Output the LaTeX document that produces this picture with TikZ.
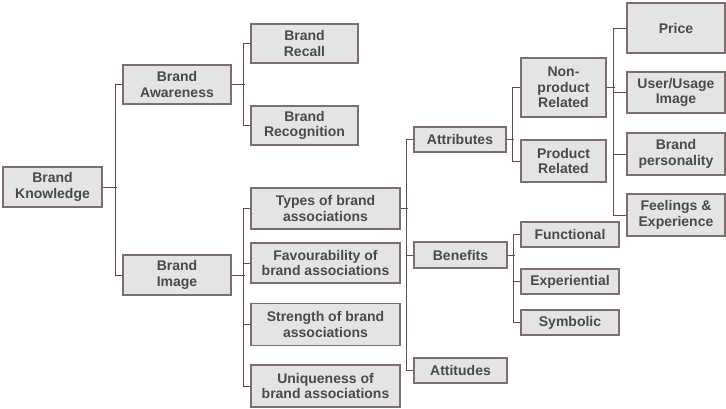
\documentclass[tikz,border=0pt]{standalone}
\usepackage{fontspec}
\setmainfont{Liberation Sans}
\definecolor{boxfill}{HTML}{E4E4E4}
\definecolor{boxline}{HTML}{7E6F6E}
\definecolor{conn}{HTML}{5E4C48}
\definecolor{txt}{HTML}{4A4A4A}
\begin{document}
\begin{tikzpicture}[x=1pt,y=-1pt,
  box/.style={draw=boxline, fill=boxfill, line width=1.3pt, inner sep=0pt, align=center,
    font=\fontsize{14}{15.5}\selectfont\bfseries, text=txt},
  link/.style={draw=conn, line width=0.9pt}]
\useasboundingbox (0,0) rectangle (726,409);
\fill[white] (0,0) rectangle (726,409);
% level 0
\node[box, minimum width=99pt, minimum height=40pt] (know) at (52.5,187) {Brand\\Knowledge};
% level 1
\node[box, minimum width=108pt, minimum height=39pt] (aware) at (177,84.5) {Brand\\Awareness};
\node[box, minimum width=108pt, minimum height=40pt] (image) at (177,275) {Brand\\Image};
% level 2
\node[box, minimum width=107pt, minimum height=39pt] (recall) at (304.5,43.5) {Brand\\Recall};
\node[box, minimum width=107pt, minimum height=39pt] (recog) at (304.5,125.5) {Brand\\Recognition};
\node[box, minimum width=149pt, minimum height=41pt] (types) at (325.5,208.5) {Types of brand\\associations};
\node[box, minimum width=149pt, minimum height=40pt] (fav) at (325.5,263) {Favourability of\\brand associations};
\node[box, minimum width=149pt, minimum height=42pt] (strength) at (325.5,324.5) {Strength of brand\\associations};
\node[box, minimum width=149pt, minimum height=42pt] (unique) at (325.5,386) {Uniqueness of\\brand associations};
% level 3
\node[box, minimum width=92pt, minimum height=25pt] (attr) at (460,139.5) {Attributes};
\node[box, minimum width=93pt, minimum height=26pt] (benef) at (460.5,255) {Benefits};
\node[box, minimum width=93pt, minimum height=25pt] (attit) at (460.5,370.5) {Attitudes};
% level 4
\node[box, minimum width=85pt, minimum height=59pt] (nonprod) at (563.5,87.5) {Non-\\product\\Related};
\node[box, minimum width=85pt, minimum height=42pt] (prod) at (563.5,161) {Product\\Related};
\node[box, minimum width=98pt, minimum height=25pt] (func) at (570,234.5) {Functional};
\node[box, minimum width=98pt, minimum height=25pt] (exper) at (570,281.5) {Experiential};
\node[box, minimum width=98pt, minimum height=25pt] (symb) at (570,322.5) {Symbolic};
% level 5
\node[box, minimum width=98pt, minimum height=50pt] (price) at (676,28) {Price};
\node[box, minimum width=98pt, minimum height=41pt] (user) at (676,92.5) {User/Usage\\Image};
\node[box, minimum width=98pt, minimum height=42pt] (pers) at (676,154) {Brand\\personality};
\node[box, minimum width=98pt, minimum height=42pt] (feel) at (676,215) {Feelings \&\\Experience};
% connectors
\draw[link] (know.east) -- ++(14,0);
\draw[link] (aware.west) -- ++(-7,0) |- (image.west);
\draw[link] (aware.east) -- ++(13,0);
\draw[link] (recall.west) -- ++(-7,0) |- (recog.west);
\draw[link] (image.east) -- ++(13,0);
\draw[link] (types.west) -- ++(-7,0) |- (unique.west);
\draw[link] (fav.west) -- ++(-7,0);
\draw[link] (strength.west) -- ++(-7,0);
\draw[link] (types.east) -- ++(7,0);
\draw[link] (attr.west) -- ++(-7,0) |- (attit.west);
\draw[link] (benef.west) -- ++(-7,0);
\draw[link] (attr.east) -- ++(7,0);
\draw[link] (nonprod.west) -- ++(-8,0) |- (prod.west);
\draw[link] (nonprod.east) -- ++(8,0);
\draw[link] (price.west) -- ++(-13,0) |- (feel.west);
\draw[link] (user.west) -- ++(-13,0);
\draw[link] (pers.west) -- ++(-13,0);
\draw[link] (benef.east) -- ++(7,0);
\draw[link] (func.west) -- ++(-7,0) |- (symb.west);
\draw[link] (exper.west) -- ++(-7,0);
\end{tikzpicture}
\end{document}
